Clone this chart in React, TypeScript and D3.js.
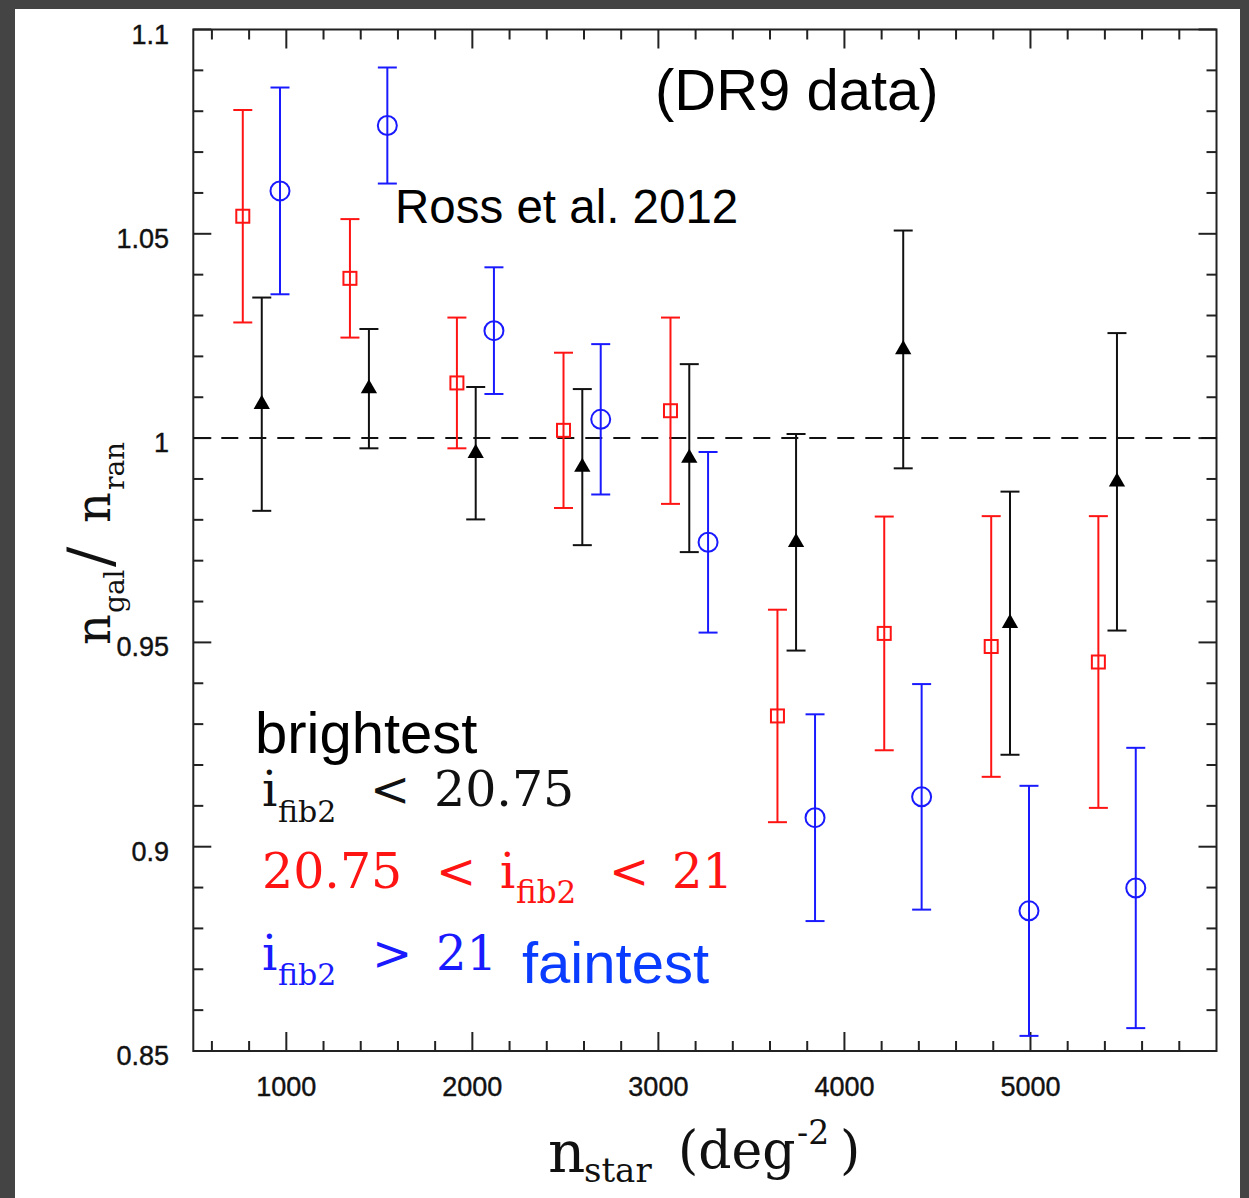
import React from "react";
import * as d3 from "d3";

// ---- data ----
const redX = [766, 1342, 1917, 2490, 3065, 3640, 4214, 4789, 5365];
const redY = [1.0543, 1.0391, 1.0135, 1.0019, 1.0067, 0.932, 0.9522, 0.949, 0.9452];
const redErr = [0.026, 0.0145, 0.016, 0.019, 0.0228, 0.026, 0.0286, 0.0319, 0.0357];

const blackX = [868, 1444, 2018, 2591, 3166, 3740, 4316, 4890, 5465];
const blackY = [1.0083, 1.0121, 0.9963, 0.9929, 0.9951, 0.9745, 1.0217, 0.9547, 0.9893];
const blackErr = [0.0261, 0.0146, 0.0162, 0.0191, 0.023, 0.0265, 0.0291, 0.0322, 0.0364];

const blueX = [966, 1543, 2116, 2690, 3267, 3842, 4415, 4992, 5566];
const blueY = [1.0605, 1.0765, 1.0263, 1.0046, 0.9745, 0.9071, 0.9122, 0.8843, 0.8899];
const blueErr = [0.0253, 0.0142, 0.0155, 0.0184, 0.0221, 0.0253, 0.0276, 0.0306, 0.0343];

const xMajorTicks = [1000, 2000, 3000, 4000, 5000];
const xTickLabels = ["1000", "2000", "3000", "4000", "5000"];
const yMajorTicks = [0.85, 0.9, 0.95, 1.0, 1.05, 1.1];
const yTickLabels = ["0.85", "0.9", "0.95", "1", "1.05", "1.1"];

const W = 1249;
const H = 1198;
const RED = "#ff1414";
const BLUE = "#1a1aff";
const BLACK = "#111";
const SANS = "'Liberation Sans', Arial, Helvetica, sans-serif";
const SERIF = "'DejaVu Serif', 'Liberation Serif', serif";

export default function App() {
  const x = d3.scaleLinear().domain([500, 6000]).range([193.3, 1216.5]);
  const y = d3.scaleLinear().domain([0.85, 1.1]).range([1051, 29.5]);
  const [x0, x1] = x.range();
  const [y0, y1] = y.range();

  const xMinor = d3.range(600, 6000, 200).filter((v) => v % 1000 !== 0);
  const yMinor = d3.range(86, 110, 1).map((v) => v / 100).filter((v) => Math.round(v * 100) % 5 !== 0);

  const tri = d3.symbol(d3.symbolTriangle, 115)();
  const cap = 9.5;

  const errBars = (xs: number[], ys: number[], es: number[], color: string) =>
    xs.map((xv, i) => {
      const cx = x(xv);
      const top = y(ys[i] + es[i]);
      const bot = y(ys[i] - es[i]);
      return (
        <g key={i} stroke={color} strokeWidth={2} fill="none">
          <line x1={cx} x2={cx} y1={top} y2={bot} />
          <line x1={cx - cap} x2={cx + cap} y1={top} y2={top} />
          <line x1={cx - cap} x2={cx + cap} y1={bot} y2={bot} />
        </g>
      );
    });

  return (
    <svg
      width={W}
      height={H}
      style={{ position: "absolute", left: 0, top: 0, display: "block", background: "#fff" }}
    >
      <rect x={0} y={0} width={W} height={H} fill="#fff" />
      {/* dark frame */}
      <rect x={0} y={0} width={W} height={9} fill="#444" />
      <rect x={0} y={0} width={15} height={H} fill="#444" />
      <rect x={1240} y={0} width={9} height={H} fill="#444" />

      {/* axes box */}
      <rect x={x0} y={y1} width={x1 - x0} height={y0 - y1} fill="none" stroke="#222" strokeWidth={2} />

      {/* x ticks */}
      {xMajorTicks.map((v) => (
        <g key={"xM" + v} stroke="#222" strokeWidth={2}>
          <line x1={x(v)} x2={x(v)} y1={y0} y2={y0 - 19} />
          <line x1={x(v)} x2={x(v)} y1={y1} y2={y1 + 19} />
        </g>
      ))}
      {xMinor.map((v) => (
        <g key={"xm" + v} stroke="#222" strokeWidth={2}>
          <line x1={x(v)} x2={x(v)} y1={y0} y2={y0 - 10} />
          <line x1={x(v)} x2={x(v)} y1={y1} y2={y1 + 10} />
        </g>
      ))}
      {/* y ticks */}
      {yMajorTicks.map((v) => (
        <g key={"yM" + v} stroke="#222" strokeWidth={2}>
          <line x1={x0} x2={x0 + 18} y1={y(v)} y2={y(v)} />
          <line x1={x1} x2={x1 - 18} y1={y(v)} y2={y(v)} />
        </g>
      ))}
      {yMinor.map((v) => (
        <g key={"ym" + v} stroke="#222" strokeWidth={2}>
          <line x1={x0} x2={x0 + 10} y1={y(v)} y2={y(v)} />
          <line x1={x1} x2={x1 - 10} y1={y(v)} y2={y(v)} />
        </g>
      ))}

      {/* tick labels */}
      {xMajorTicks.map((v, i) => (
        <text key={"xl" + v} x={x(v)} y={1096} textAnchor="middle" fontFamily={SANS} fontSize={27}
          fill="#111" stroke="#111" strokeWidth={0.4}>
          {xTickLabels[i]}
        </text>
      ))}
      {yMajorTicks.map((v, i) => (
        <text key={"yl" + v} x={169} y={y(v) + 14} textAnchor="end" fontFamily={SANS} fontSize={27}
          fill="#111" stroke="#111" strokeWidth={0.4}>
          {yTickLabels[i]}
        </text>
      ))}

      {/* reference line at 1 */}
      <line x1={x0} x2={x1} y1={y(1)} y2={y(1)} stroke="#111" strokeWidth={2} strokeDasharray="17 11" />

      {/* error bars */}
      {errBars(redX, redY, redErr, RED)}
      {errBars(blueX, blueY, blueErr, BLUE)}
      {errBars(blackX, blackY, blackErr, BLACK)}

      {/* markers */}
      {redX.map((xv, i) => (
        <rect key={"rs" + i} x={x(xv) - 6.5} y={y(redY[i]) - 6.5} width={13} height={13} fill="none" stroke={RED} strokeWidth={2} />
      ))}
      {blueX.map((xv, i) => (
        <circle key={"bc" + i} cx={x(xv)} cy={y(blueY[i])} r={9.5} fill="none" stroke={BLUE} strokeWidth={2} />
      ))}
      {blackX.map((xv, i) => (
        <path key={"kt" + i} d={tri as string} transform={`translate(${x(xv)},${y(blackY[i])})`} fill="#000" />
      ))}

      {/* annotations */}
      <text x={655} y={110} fontFamily={SANS} fontSize={58} fill="#000">(DR9 data)</text>
      <text x={395} y={223} fontFamily={SANS} fontSize={47.5} fill="#000">Ross et al. 2012</text>
      <text x={255} y={753} fontFamily={SANS} fontSize={58} fill="#000">brightest</text>

      {/* legend line 1 (black) */}
      <g fontFamily={SERIF} fill="#111">
        <text x={262} y={806} fontSize={48}>i</text>
        <text x={278} y={822} fontSize={30}>fib2</text>
        <text x={370} y={806} fontSize={48}>&lt;</text>
        <text x={434} y={806} fontSize={49}>20.75</text>
      </g>
      {/* legend line 2 (red) */}
      <g fontFamily={SERIF} fill={RED}>
        <text x={262} y={888} fontSize={49}>20.75</text>
        <text x={436} y={888} fontSize={48}>&lt;</text>
        <text x={500} y={888} fontSize={48}>i</text>
        <text x={516} y={903} fontSize={31}>fib2</text>
        <text x={609} y={888} fontSize={48}>&lt;</text>
        <text x={672} y={888} fontSize={48}>21</text>
      </g>
      {/* legend line 3 (blue) */}
      <g fontFamily={SERIF} fill={BLUE}>
        <text x={262} y={970} fontSize={48}>i</text>
        <text x={278} y={985} fontSize={30}>fib2</text>
        <text x={372} y={970} fontSize={48}>&gt;</text>
        <text x={436} y={970} fontSize={48}>21</text>
      </g>
      <text x={522} y={983} fontFamily={SANS} fontSize={58} fill="#0a3cff">faintest</text>

      {/* x axis title */}
      <g fontFamily={SERIF} fill="#111">
        <text x={548} y={1172} fontSize={58}>n</text>
        <text x={584} y={1182} fontSize={34}>star</text>
        <text x={678} y={1168} fontSize={52}>(deg</text>
        <text x={797} y={1144} fontSize={33}>-2</text>
        <text x={840} y={1168} fontSize={52}>)</text>
      </g>

      {/* y axis title */}
      <g fontFamily={SERIF} fill="#111" transform="translate(110,645) rotate(-90)">
        <text x={0} y={0} fontSize={48}>n</text>
        <text x={32} y={14} fontSize={28}>gal</text>
        <text x={78} y={0} fontSize={60}>/</text>
        <text x={122} y={0} fontSize={48}>n</text>
        <text x={155} y={14} fontSize={28}>ran</text>
      </g>
    </svg>
  );
}
